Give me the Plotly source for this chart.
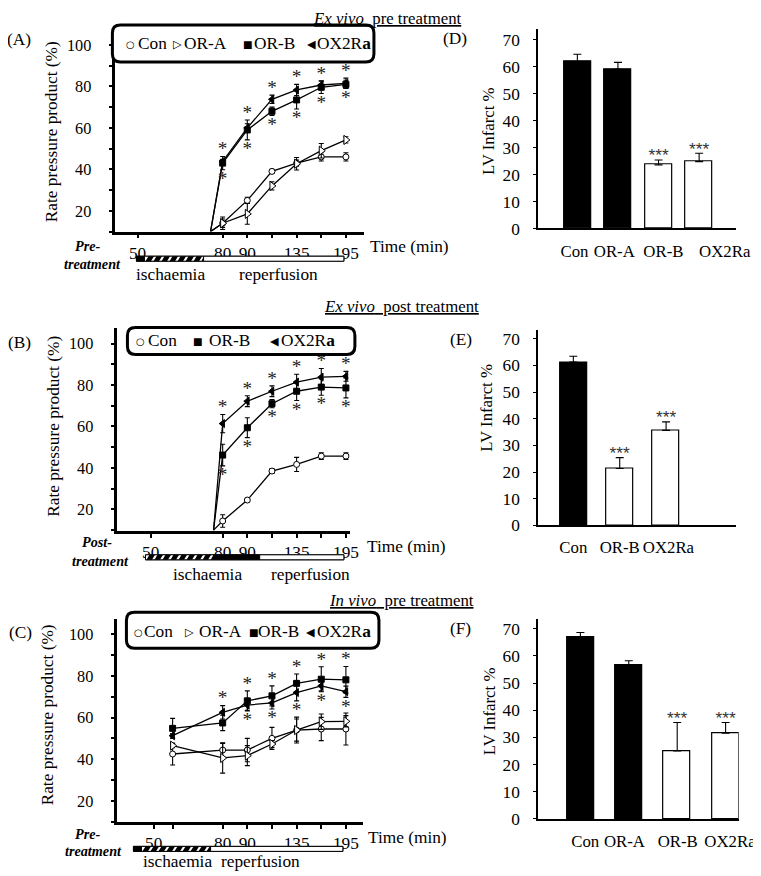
import plotly.graph_objects as go

# Placement is given in reference-image pixels and converted to the page:
# the captured page area (about 780x884 css px, default 8px body margin)
# is rescaled to 761x876, so positions are pre-compensated here.
BODY = 8
KX, KY = 0.976, 0.990
W, H = 772, 876
SERIF = "Liberation Serif, Times New Roman, Tinos, serif"
SANS = "Liberation Sans, Arial, sans-serif"
SYMF = "DejaVu Sans"

# ---------------- data ----------------
SERIES = ["Con", "OR-A", "OR-B", "OX2Ra"]
TIME_TICKS = [50, 80, 90, 135, 195]
ONSET_TIME = 75          # reperfusion onset (lines start from baseline)
ONSET_RPP = 10

# (A) ex vivo pre treatment
A_TIME = [80, 90, 105, 135, 165, 195]
A_CON = [14, 25, 39, 43, 46, 46]
A_CON_ERR = [2, 1.5, 1, 1.5, 2, 2]
A_ORA = [14, 18.5, 32, 42.7, 49, 54.2]
A_ORA_ERR = [3, 5, 2, 3, 3.5, 1.5]
A_ORB = [43, 59, 68, 73.5, 79.6, 81]
A_ORB_ERR = [3.2, 4.8, 2, 4.4, 3, 2]
A_OX = [43.8, 60, 73.8, 78.3, 80.7, 81.5]
A_OX_ERR = [1, 2, 2, 2.7, 2, 2.5]
A_SIG_UP = [1, 1, 1, 1, 1, 1]
A_SIG_DN = [1, 1, 1, 1, 1, 1]

# (B) ex vivo post treatment
B_TIME = [80, 90, 105, 135, 165, 195]
B_CON = [14.4, 24.5, 38.5, 41.7, 45.7, 45.7]
B_CON_ERR = [3, 1, 1.2, 3.4, 1.6, 1.6]
B_ORB = [46.2, 59.4, 71, 77, 79, 78.6]
B_ORB_ERR = [5.2, 4.8, 2, 4.5, 3.9, 4.8]
B_OX = [61.4, 72.2, 77, 81.4, 83.8, 84.2]
B_OX_ERR = [4.4, 2.6, 2.6, 3.8, 4.2, 2.4]
B_SIG_UP = [1, 1, 1, 1, 1, 1]
B_SIG_DN = [1, 1, 1, 1, 1, 1]

# (C) in vivo pre treatment
C_TIME = [60, 80, 90, 105, 135, 165, 195]
C_CON = [42.5, 44.4, 44.4, 50, 54, 54.5, 54.5]
C_CON_ERR = [5.3, 3.2, 5.6, 5.3, 6.2, 5.6, 7.7]
C_ORA = [46.5, 40.6, 41.7, 47.3, 54, 58, 58.2]
C_ORA_ERR = [1, 7.3, 4.8, 1.6, 5.3, 3.7, 2.7]
C_ORB = [54.8, 57.4, 68, 70.4, 76.4, 78.4, 78.1]
C_ORB_ERR = [4.8, 3.7, 4.8, 4.8, 4.5, 6, 6.4]
C_OX = [51.3, 62.5, 66, 67, 72, 75.2, 72.4]
C_OX_ERR = [1, 3.2, 2.5, 2.9, 4, 2.4, 2.7]
C_SIG_UP = [0, 1, 1, 1, 1, 1, 1]
C_SIG_DN = [0, 0, 1, 1, 1, 1, 1]

# (D)(E)(F) LV infarct %
D_CATS = ["Con", "OR-A", "OR-B", "OX2Ra"]
D_VAL = [61.8, 59.0, 23.6, 24.8]
D_ERR = [2.8, 2.6, 1.8, 3.1]
D_SIG = ["", "", "***", "***"]

E_CATS = ["Con", "OR-B", "OX2Ra"]
E_VAL = [61.2, 21.3, 35.6]
E_ERR = [2.2, 4.1, 3.2]
E_SIG = ["", "***", "***"]

F_CATS = ["Con", "OR-A", "OR-B", "OX2Ra"]
F_VAL = [66.8, 56.4, 25.0, 31.5]
F_ERR = [1.8, 1.8, 10.5, 4.0]
F_SIG = ["", "", "***", "***"]

# ---------------- helpers ----------------
def dx(px):
    return (px / KX - BODY) / W


def dy(py):
    return 1 - (py / KY - BODY) / H


def fs(s):
    return round(s / ((KX + KY) / 2), 1)


STYLE = {
    "Con": dict(symbol="circle", size=6, color="white"),
    "OR-A": dict(symbol="triangle-right", size=8, color="white"),
    "OR-B": dict(symbol="square", size=6, color="black"),
    "OX2Ra": dict(symbol="triangle-left", size=7, color="black"),
}
GLYPH = {"Con": ("○", 10), "OR-A": ("▷", 11), "OR-B": ("■", 10), "OX2Ra": ("◀", 11)}

LINE_PANELS = [
    dict(xa="x", ya="y", xpx=(115, 363), ypx=(34.6, 231.75), yr=(10, 105), ur=(-3.35, 6.73),
         tpos={50: -2.45, 75: 0.51, 60: -1.03, 80: 1, 90: 2, 105: 3, 135: 4, 165: 5, 195: 6},
         time=A_TIME, onset=True,
         series=[("Con", A_CON, A_CON_ERR), ("OR-A", A_ORA, A_ORA_ERR),
                 ("OR-B", A_ORB, A_ORB_ERR), ("OX2Ra", A_OX, A_OX_ERR)],
         sig=(A_SIG_UP, A_SIG_DN)),
    dict(xa="x3", ya="y3", xpx=(117, 349), ypx=(328, 531.6), yr=(9.6, 107.7), ur=(-3.27, 6.16),
         tpos={50: -1.92, 75: 0.63, 60: -1.03, 80: 1, 90: 2, 105: 3, 135: 4, 165: 5, 195: 6},
         time=B_TIME, onset=True,
         series=[("Con", B_CON, B_CON_ERR), ("OR-B", B_ORB, B_ORB_ERR), ("OX2Ra", B_OX, B_OX_ERR)],
         sig=(B_SIG_UP, B_SIG_DN)),
    dict(xa="x5", ya="y5", xpx=(117, 362), ypx=(620, 823), yr=(9.9, 107.2), ur=(-3.27, 6.69),
         tpos={50: -1.8, 75: 0.5, 60: -1.03, 80: 1, 90: 2, 105: 3, 135: 4, 165: 5, 195: 6},
         time=C_TIME, onset=False,
         series=[("Con", C_CON, C_CON_ERR), ("OR-A", C_ORA, C_ORA_ERR),
                 ("OR-B", C_ORB, C_ORB_ERR), ("OX2Ra", C_OX, C_OX_ERR)],
         sig=(C_SIG_UP, C_SIG_DN)),
]

# label offsets (in category units) reproduce the original label placement
BAR_PANELS = [
    dict(xa="x2", ya="y2", xpx=(537, 734), ypx=(29.3, 228.7), yr=(0, 73.85), xr=(-0.963, 3.9),
         width=0.667, cats=D_CATS, val=D_VAL, err=D_ERR, sig=D_SIG,
         lab_shift=[-0.07, -0.09, 0.12, 0.63]),
    dict(xa="x4", ya="y4", xpx=(537, 734), ypx=(330, 526), yr=(0, 73.4), xr=(-0.756, 3.5),
         width=0.583, cats=E_CATS, val=E_VAL, err=E_ERR, sig=E_SIG,
         lab_shift=[0, 0, 0.05]),
    dict(xa="x6", ya="y6", xpx=(537, 737), ypx=(620, 820), yr=(0, 73.5), xr=(-0.87, 3.27),
         width=0.56, cats=F_CATS, val=F_VAL, err=F_ERR, sig=F_SIG,
         lab_shift=[0.1, -0.09, 0.01, 0.09]),
]

fig = go.Figure()
layout_axes = {}

# ---------------- line panels ----------------
for p in LINE_PANELS:
    tp = p["tpos"]
    ppu = (p["ypx"][1] - p["ypx"][0]) / (p["yr"][1] - p["yr"][0])
    for name, vals, errs in p["series"]:
        xs = [tp[t] for t in p["time"]]
        ys = list(vals)
        if p["onset"]:
            xs = [tp[ONSET_TIME]] + xs
            ys = [ONSET_RPP] + ys
        fig.add_trace(go.Scatter(x=xs, y=ys, mode="lines", xaxis=p["xa"], yaxis=p["ya"],
                                 line=dict(color="black", width=1.3), hoverinfo="skip"))
    for name, vals, errs in p["series"]:
        st = STYLE[name]
        fig.add_trace(go.Scatter(
            x=[tp[t] for t in p["time"]], y=vals, mode="markers", name=name,
            xaxis=p["xa"], yaxis=p["ya"],
            marker=dict(symbol=st["symbol"], size=st["size"], color=st["color"],
                        line=dict(color="black", width=1)),
            error_y=dict(type="data", array=errs, color="black", thickness=1.1, width=2.5)))
    treated = [(v, e) for n, v, e in p["series"] if n in ("OR-B", "OX2Ra")]
    up, dn = p["sig"]
    sx, sy = [], []
    for i, t in enumerate(p["time"]):
        top = max(v[i] + e[i] for v, e in treated)
        bot = min(v[i] - e[i] for v, e in treated)
        if up[i]:
            sx.append(tp[t]); sy.append(top + 6.0 / ppu)
        if dn[i]:
            sx.append(tp[t]); sy.append(bot - 10.5 / ppu)
    fig.add_trace(go.Scatter(x=sx, y=sy, mode="text", text=["*"] * len(sx),
                             textposition="middle center", xaxis=p["xa"], yaxis=p["ya"],
                             textfont=dict(family=SERIF, size=fs(19), color="#222"),
                             cliponaxis=False, hoverinfo="skip"))
    xk = "xaxis" + p["xa"][1:]
    yk = "yaxis" + p["ya"][1:]
    layout_axes[xk] = dict(
        domain=[dx(p["xpx"][0]), dx(p["xpx"][1])], range=list(p["ur"]), anchor=p["ya"],
        tickmode="array", tickvals=[tp[t] for t in TIME_TICKS], ticktext=[str(t) for t in TIME_TICKS],
        ticks="outside", ticklen=4, tickwidth=1.5, tickcolor="black", tickangle=0,
        minor=dict(tickmode="array", tickvals=[tp[t] for t in p["time"] if t not in TIME_TICKS],
                   ticks="outside", ticklen=4, tickwidth=1.5, tickcolor="black"),
        showline=True, linewidth=2.5, linecolor="black", showgrid=False, zeroline=False,
        tickfont=dict(family=SERIF, size=fs(17), color="black"), ticklabelstandoff=0)
    layout_axes[yk] = dict(
        domain=[dy(p["ypx"][1]), dy(p["ypx"][0])], range=list(p["yr"]), anchor=p["xa"],
        tickmode="array", tickvals=[20, 40, 60, 80, 100],
        ticks="outside", ticklen=4, tickwidth=1.5, tickcolor="black",
        minor=dict(dtick=10, tick0=0, ticks="outside", ticklen=4, tickwidth=1.5, tickcolor="black"),
        showline=True, linewidth=2.5, linecolor="black", showgrid=False, zeroline=False,
        tickfont=dict(family=SERIF, size=fs(16), color="black"), ticklabelstandoff=14)

# ---------------- bar panels ----------------
for p in BAR_PANELS:
    idx = list(range(len(p["cats"])))
    ppu = (p["ypx"][1] - p["ypx"][0]) / (p["yr"][1] - p["yr"][0])
    colors = ["black" if c in ("Con", "OR-A") else "white" for c in p["cats"]]
    fig.add_trace(go.Bar(x=idx, y=p["val"], width=p["width"], xaxis=p["xa"], yaxis=p["ya"],
                         marker=dict(color=colors, line=dict(color="black", width=1.2)),
                         error_y=dict(type="data", symmetric=False, array=p["err"],
                                      arrayminus=[0] * len(idx), color="black",
                                      thickness=1.1, width=4)))
    fig.add_trace(go.Scatter(x=idx, y=[v + e + 3.0 / ppu for v, e in zip(p["val"], p["err"])],
                             mode="text", text=p["sig"], textposition="middle center",
                             xaxis=p["xa"], yaxis=p["ya"], cliponaxis=False,
                             textfont=dict(family=SANS, size=fs(17), color="#333"), hoverinfo="skip"))
    xk = "xaxis" + p["xa"][1:]
    yk = "yaxis" + p["ya"][1:]
    layout_axes[xk] = dict(
        domain=[dx(p["xpx"][0]), dx(p["xpx"][1])], range=list(p["xr"]), anchor=p["ya"],
        tickmode="array", tickvals=[i + s for i, s in zip(idx, p["lab_shift"])],
        ticktext=p["cats"], ticks="", tickangle=0,
        showline=True, linewidth=2, linecolor="black", showgrid=False, zeroline=False,
        tickfont=dict(family=SERIF, size=fs(16.5), color="black"), ticklabelstandoff=6)
    layout_axes[yk] = dict(
        domain=[dy(p["ypx"][1]), dy(p["ypx"][0])], range=list(p["yr"]), anchor=p["xa"],
        tickmode="array", tickvals=list(range(0, 71, 10)),
        ticks="outside", ticklen=3, tickwidth=1.2, tickcolor="black",
        showline=True, linewidth=2, linecolor="black", showgrid=False, zeroline=False,
        tickfont=dict(family=SERIF, size=fs(17), color="black"), ticklabelstandoff=10)

# ---------------- decorations ----------------
shapes = []
ann = []


def text(px, py, s, size=17, xanchor="center", family=SERIF, angle=0, color="black",
         yanchor="middle"):
    ann.append(dict(x=dx(px), y=dy(py), xref="paper", yref="paper", text=s, showarrow=False,
                    xanchor=xanchor, yanchor=yanchor, textangle=angle, borderpad=0,
                    font=dict(family=family, size=fs(size), color=color)))


def rbox(x0, y0, x1, y1, r=8):
    def P(x, y):
        return f"{dx(x):.5f},{dy(y):.5f}"
    path = (f"M{P(x0 + r, y0)} L{P(x1 - r, y0)} Q{P(x1, y0)} {P(x1, y0 + r)} "
            f"L{P(x1, y1 - r)} Q{P(x1, y1)} {P(x1 - r, y1)} L{P(x0 + r, y1)} "
            f"Q{P(x0, y1)} {P(x0, y1 - r)} L{P(x0, y0 + r)} Q{P(x0, y0)} {P(x0 + r, y0)} Z")
    shapes.append(dict(type="path", path=path, xref="paper", yref="paper", layer="above",
                       fillcolor="white", line=dict(color="black", width=3)))


def rect(x0, y0, x1, y1, fill="white", lw=1):
    shapes.append(dict(type="rect", xref="paper", yref="paper", x0=dx(x0), x1=dx(x1),
                       y0=dy(y1), y1=dy(y0), fillcolor=fill, layer="above",
                       line=dict(color="black", width=lw)))


def hatch(x0, x1, yt, yb, period=8.0, w=5.5, slant=3.0):
    parts = []
    x = x0 + 1
    while x < x1 - 1:
        a, b = x, min(x + w, x1)
        ta, tb = min(a + slant, x1), min(b + slant, x1)
        parts.append(f"M{dx(a):.5f},{dy(yb):.5f} L{dx(b):.5f},{dy(yb):.5f} "
                     f"L{dx(tb):.5f},{dy(yt):.5f} L{dx(ta):.5f},{dy(yt):.5f} Z")
        x += period
    shapes.append(dict(type="path", path=" ".join(parts), xref="paper", yref="paper",
                       layer="above", fillcolor="black", line=dict(width=0)))


def timeline(yc, segs):
    yt, yb = yc - 2.5, yc + 2.5
    rect(segs[0][0], yt, segs[-1][1], yb, "white", 1)
    for x0, x1, kind in segs:
        if kind == "black":
            rect(x0, yt, x1, yb, "black", 1)
        elif kind == "hatch":
            rect(x0, yt, x1, yb, "white", 1)
            hatch(x0, x1, yt, yb)
        else:
            rect(x0, yt, x1, yb, "white", 1)


timeline(259, [(136, 144, "black"), (144, 203, "hatch"), (203, 343, "white")])
timeline(558, [(145, 213, "hatch"), (213, 259, "black"), (259, 343, "white")])
timeline(850, [(133, 141, "black"), (141, 210, "hatch"), (210, 342, "white")])

LEG = [
    dict(box=(112, 25, 373, 62), yc=43, names=SERIES,
         sym=[130, 177, 247, 311], lab=[137, 182, 252, 315]),
    dict(box=(127, 328, 354, 355), yc=341, names=["Con", "OR-B", "OX2Ra"],
         sym=[140, 197, 274], lab=[147, 207, 279]),
    dict(box=(126, 613, 378, 649), yc=632, names=SERIES,
         sym=[138, 189, 253, 310], lab=[143, 197, 256, 315]),
]
for L in LEG:
    rbox(*L["box"])
    for n, sxp, lxp in zip(L["names"], L["sym"], L["lab"]):
        g, gs = GLYPH[n]
        text(sxp, L["yc"] + 1, g, size=gs, family=SYMF)
        lbl = "OX2R<b>a</b>" if n == "OX2Ra" else n
        text(lxp, L["yc"], lbl, size=17, xanchor="left")

# titles
TOP = BODY * KY
text(387, TOP, "<u><i>Ex vivo</i>  pre treatment</u>", 16.5, yanchor="top")
text(401, 296, "<u><i>Ex vivo</i>  post treatment</u>", 16.5, yanchor="top")
text(401, 591, "<u><i>In vivo</i>  pre treatment</u>", 16.5, yanchor="top")

for tag, px, py in [("(A)", 19, 39), ("(B)", 19, 343), ("(D)", 454, 38),
                    ("(E)", 460, 340), ("(F)", 459, 629)]:
    text(px, py, tag, 17)
text(BODY * KX, 633, "(C)", 17, xanchor="left")

for px, py in [(52, 132), (53, 427), (47, 716)]:
    text(px, py, "Rate pressure product (%)", 17, angle=-90)
for px, py in [(488, 131), (485, 408), (488, 712)]:
    text(px, py, "LV Infarct %", 16.5, angle=-90)

for t1, t2, px1, py1, px2, py2 in [("Pre-", "treatment", 87, 246, 92, 264),
                                   ("Post-", "treatment", 97, 543, 100, 562),
                                   ("Pre-", "treatment", 87, 835, 93, 852)]:
    text(px1, py1, f"<b><i>{t1}</i></b>", 14)
    text(px2, py2, f"<b><i>{t2}</i></b>", 14)
for px, py in [(368, 247), (365, 547), (366, 839)]:
    text(px, py, "Time (min)", 17, xanchor="left")
for (xi, yi), (xr, yr) in [((170, 275), (278, 275)), ((207, 575), (310, 575)),
                           ((177, 863), (260, 863))]:
    text(xi, yi, "ischaemia", 17)
    text(xr, yr, "reperfusion", 17)

fig.update_layout(width=W, height=H, margin=dict(l=0, r=0, t=0, b=0),
                  font=dict(family=SERIF, color="black"),
                  paper_bgcolor="white", plot_bgcolor="rgba(0,0,0,0)", showlegend=False,
                  bargap=0, shapes=shapes, annotations=ann, **layout_axes)

fig.write_html("out.html", config={"displayModeBar": False})
